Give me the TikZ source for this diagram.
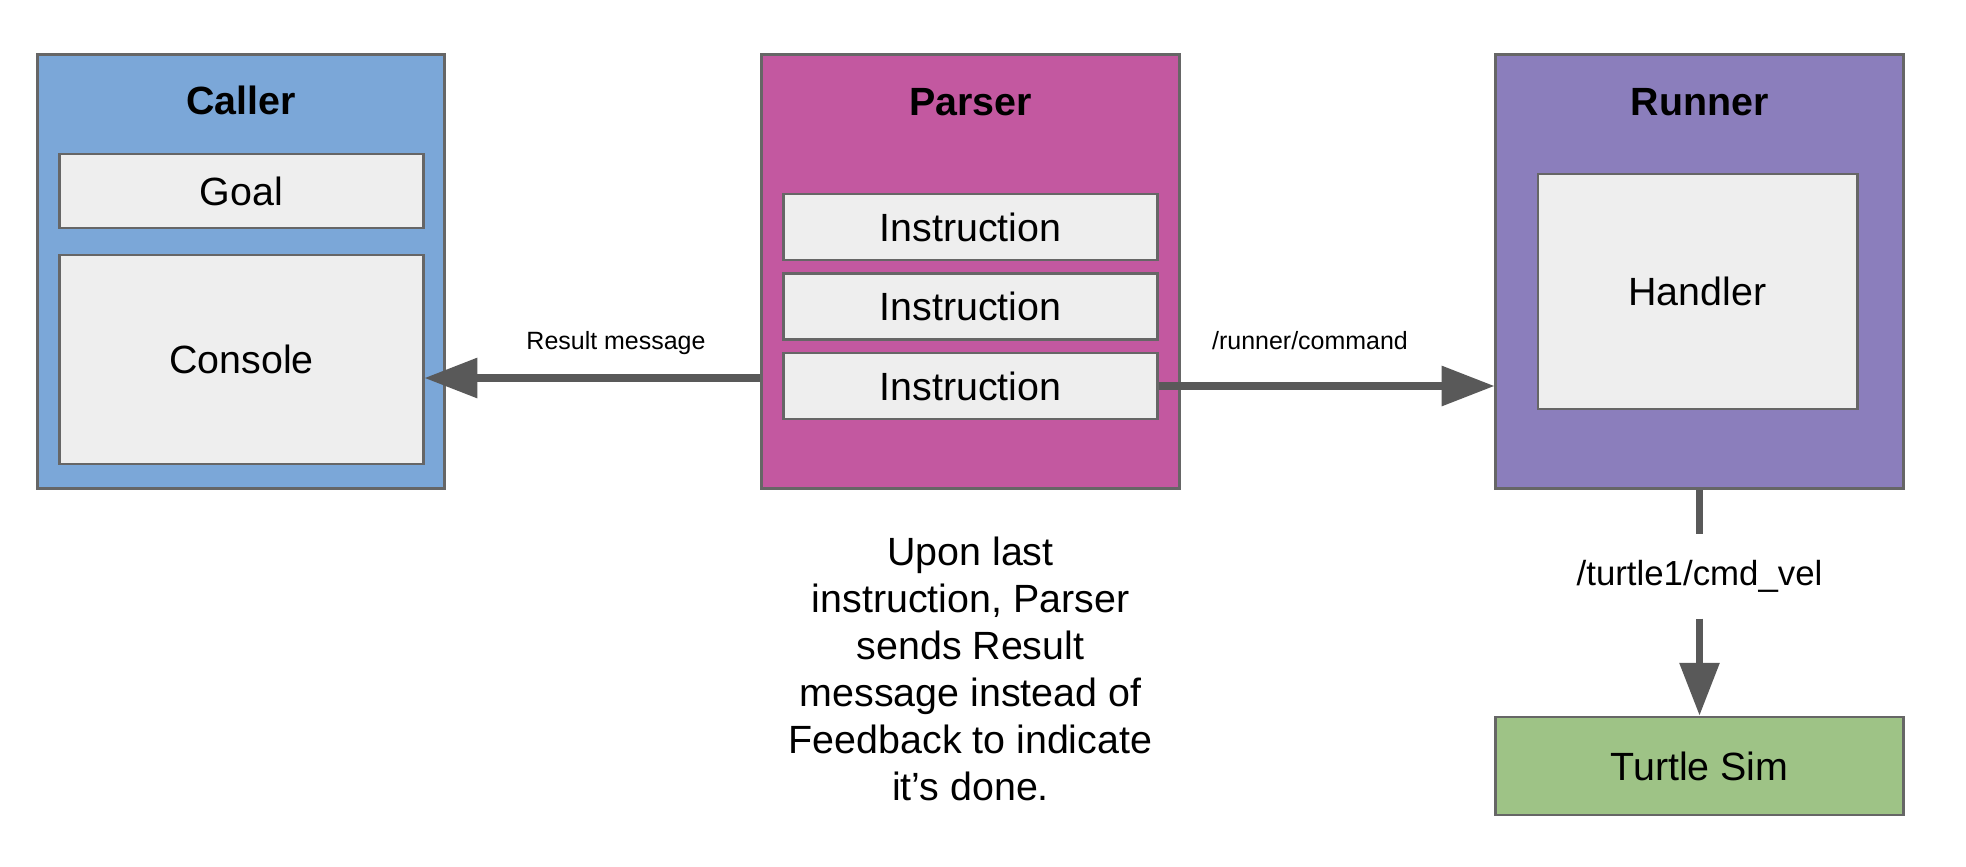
\documentclass[tikz,border=0pt]{standalone}
\usepackage{fontspec}
\setmainfont{Liberation Sans}
\usetikzlibrary{arrows.meta}
\definecolor{cblue}{HTML}{7BA7D8}
\definecolor{cmag}{HTML}{C358A0}
\definecolor{cpur}{HTML}{8B7EBC}
\definecolor{cgrn}{HTML}{9EC386}
\definecolor{cin}{HTML}{EEEEEE}
\definecolor{cbord}{HTML}{666666}
\definecolor{carr}{HTML}{595959}
\begin{document}
\begin{tikzpicture}[x=0.01cm,y=-0.01cm,
  outer/.style={draw=cbord, line width=0.8pt, rectangle, inner sep=0pt},
  inbox/.style={draw=cbord, line width=0.8pt, fill=cin, rectangle, inner sep=0pt,
    font=\fontsize{11.2}{13.4}\selectfont},
  title/.style={font=\fontsize{11.2}{13.4}\selectfont\bfseries, inner sep=0pt},
  lbl/.style={font=\fontsize{7.1}{8.5}\selectfont, inner sep=0pt},
  arr/.style={draw=carr, line width=2pt, -{Triangle[length=15pt,width=11pt]}},
  seg/.style={draw=carr, line width=2pt}
]
\useasboundingbox (0,0) rectangle (1966,866);

% Caller
\node[outer, fill=cblue, minimum width=4.07cm, minimum height=4.33cm] (Caller) at (241,271.5) {};
\node[title] (CallerT) at (241,100) {Caller};
\node[inbox, minimum width=3.63cm, minimum height=0.74cm] (Goal) at (241.5,191) {Goal};
\node[inbox, minimum width=3.63cm, minimum height=2.09cm] (Console) at (241.5,359.5) {Console};

% Parser
\node[outer, fill=cmag, minimum width=4.17cm, minimum height=4.33cm] (Parser) at (970.5,271.5) {};
\node[title] (ParserT) at (970.5,102) {Parser};
\node[inbox, minimum width=3.73cm, minimum height=0.66cm] (Inst1) at (970.5,227) {Instruction};
\node[inbox, minimum width=3.73cm, minimum height=0.66cm] (Inst2) at (970.5,306.5) {Instruction};
\node[inbox, minimum width=3.73cm, minimum height=0.66cm] (Inst3) at (970.5,386) {Instruction};

% Runner
\node[outer, fill=cpur, minimum width=4.07cm, minimum height=4.33cm] (Runner) at (1699.5,271.5) {};
\node[title] (RunnerT) at (1699.5,102) {Runner};
\node[inbox, minimum width=3.19cm, minimum height=2.35cm] (Handler) at (1697.5,291.5) {Handler};

% Turtle Sim
\node[outer, fill=cgrn, minimum width=4.07cm, minimum height=0.98cm,
  font=\fontsize{11.2}{13.4}\selectfont] (Turtle) at (1699.5,766) {Turtle Sim};

% Connectors
\draw[arr] (Parser.west |- 0,378) -- (Console.east |- 0,378);
\node[lbl] (ResLbl) at (616,343) {Result message};

\draw[arr] (Inst3.east) -- (Runner.west |- Inst3.east);
\node[lbl] (CmdLbl) at (1310,341) {/runner/command};

\node[font=\fontsize{9.9}{11.9}\selectfont, inner sep=0pt, minimum height=0.83cm] (VelLbl) at (1699.5,576.5) {/turtle1/cmd\_vel};
\draw[seg] (Runner.south) -- (VelLbl.north);
\draw[arr] (VelLbl.south) -- (Turtle.north);

% Note
\node[align=center, font=\fontsize{11.2}{13.4}\selectfont, inner sep=0pt] (Note) at (970.5,669)
  {Upon last\\instruction, Parser\\sends Result\\message instead of\\Feedback to indicate\\it’s done.};
\end{tikzpicture}
\end{document}
